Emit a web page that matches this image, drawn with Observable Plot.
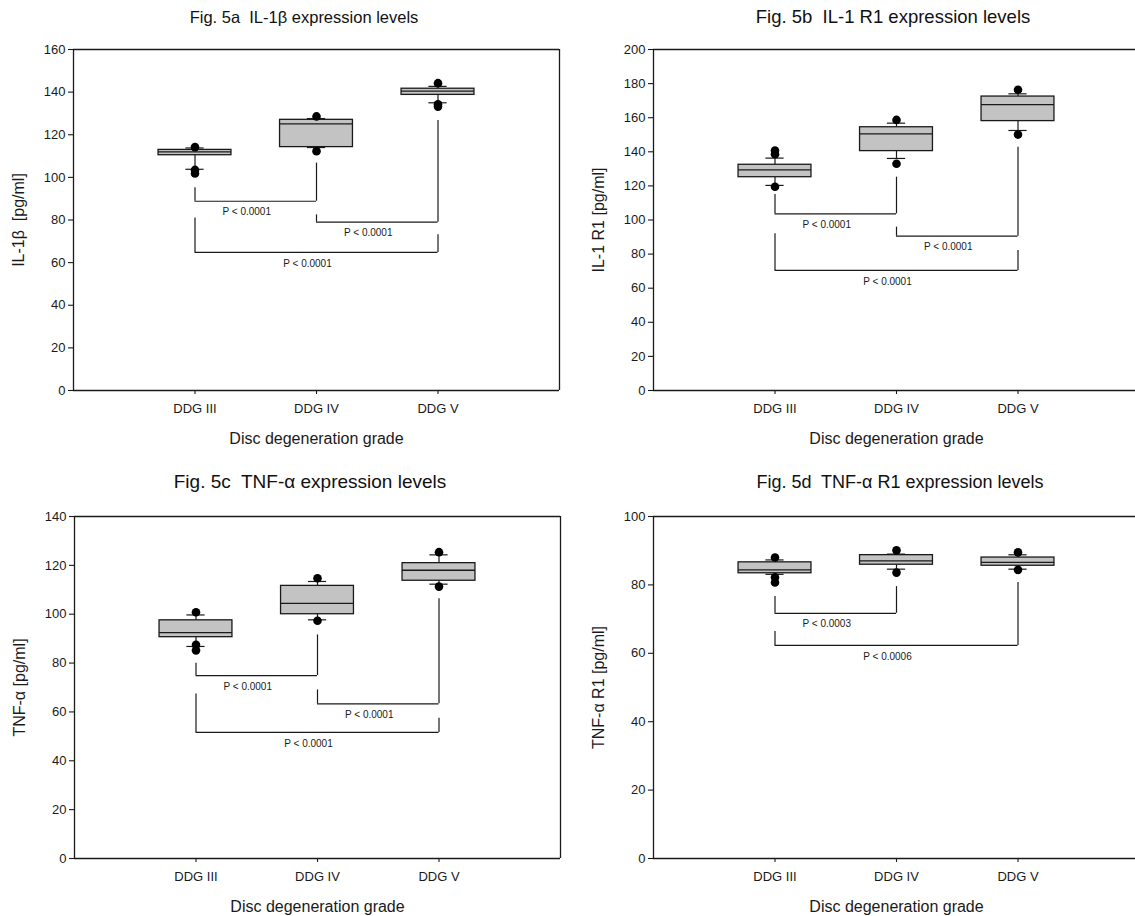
<!DOCTYPE html>
<html><head><meta charset="utf-8">
<script src="https://cdn.jsdelivr.net/npm/d3@7"></script>
<script src="https://cdn.jsdelivr.net/npm/@observablehq/plot@0.6"></script>
<style>
html,body{margin:0;padding:0;background:#fff;overflow:hidden;}
#wrap{position:relative;width:1135px;height:916px;overflow:hidden;background:#fff;}
.panel{position:absolute;max-width:none !important;}
.panel text{white-space:pre;}
.title{position:absolute;font-family:"Liberation Sans",Arial,sans-serif;color:#111;white-space:pre;transform:translate(-50%,-50%);}
</style></head><body>
<div id="wrap"></div>
<script>
const grades = ["DDG III", "DDG IV", "DDG V"];
const xLabel = "Disc degeneration grade";

// Fig. 5a IL-1β
const aTitle = "Fig. 5a  IL-1β expression levels";
const aYLabel = "IL-1β  [pg/ml]";
const aYMax = 160;
const aQ1 = [110.4, 114.2, 138.7];
const aMed = [112.0, 125.1, 140.5];
const aQ3 = [112.9, 127.0, 141.6];
const aLo = [103.8, 114.0, 135.0];
const aHi = [113.8, 127.6, 142.7];
const aOut = [[114.2, 103.5, 101.8], [128.6, 112.3], [144.2, 134.3, 133.2]];
const aBr = [
  {x1: 1, x2: 2, y1: 95.1, y2: 106.7, y: 88.8, label: "P < 0.0001"},
  {x1: 2, x2: 3, y1: 82.4, y2: 126.7, y: 79.0, label: "P < 0.0001"},
  {x1: 1, x2: 3, y1: 80.9, y2: 73.1, y: 64.8, label: "P < 0.0001"}
];

// Fig. 5b IL-1 R1
const bTitle = "Fig. 5b  IL-1 R1 expression levels";
const bYLabel = "IL-1 R1 [pg/ml]";
const bYMax = 200;
const bQ1 = [125.1, 140.4, 158.0];
const bMed = [129.4, 150.5, 167.7];
const bQ3 = [132.4, 154.4, 172.4];
const bLo = [120.3, 136.1, 152.5];
const bHi = [136.3, 156.8, 174.0];
const bOut = [[140.8, 138.6, 119.5], [158.7, 133.0], [176.4, 150.1]];
const bBr = [
  {x1: 1, x2: 2, y1: 115.0, y2: 125.1, y: 103.6, label: "P < 0.0001"},
  {x1: 2, x2: 3, y1: 95.8, y2: 142.7, y: 90.5, label: "P < 0.0001"},
  {x1: 1, x2: 3, y1: 91.9, y2: 82.1, y: 70.4, label: "P < 0.0001"}
];

// Fig. 5c TNF-α
const cTitle = "Fig. 5c  TNF-α expression levels";
const cYLabel = "TNF-α [pg/ml]";
const cYMax = 140;
const cQ1 = [90.6, 100.0, 113.7];
const cMed = [92.5, 104.4, 118.0];
const cQ3 = [97.5, 111.6, 120.9];
const cLo = [86.8, 97.7, 112.3];
const cHi = [99.7, 113.4, 124.3];
const cOut = [[100.8, 87.5, 85.2], [114.7, 97.3], [125.4, 111.3]];
const cBr = [
  {x1: 1, x2: 2, y1: 79.9, y2: 91.5, y: 74.9, label: "P < 0.0001"},
  {x1: 2, x2: 3, y1: 69.0, y2: 106.3, y: 63.3, label: "P < 0.0001"},
  {x1: 1, x2: 3, y1: 67.3, y2: 57.4, y: 51.6, label: "P < 0.0001"}
];

// Fig. 5d TNF-α R1
const dTitle = "Fig. 5d  TNF-α R1 expression levels";
const dYLabel = "TNF-α R1 [pg/ml]";
const dYMax = 100;
const dQ1 = [83.4, 85.9, 85.6];
const dMed = [84.4, 87.0, 86.6];
const dQ3 = [86.6, 88.7, 88.0];
const dLo = [83.1, 84.6, 84.6];
const dHi = [87.3, 89.0, 88.8];
const dOut = [[88.0, 82.2, 80.7], [90.1, 83.6], [89.5, 84.4]];
const dBr = [
  {x1: 1, x2: 2, y1: 76.6, y2: 79.5, y: 71.7, label: "P < 0.0003"},
  {x1: 1, x2: 3, y1: 66.4, y2: 80.7, y: 62.3, label: "P < 0.0006"}
];

const FONT = '"Liberation Sans", Arial, sans-serif';
const INK = "#1a1a1a";
const wrap = document.getElementById("wrap");

function makePanel(cfg) {
  const idx = [0, 1, 2];
  const hw = 0.3, cw = 0.075;
  const outs = cfg.out.flatMap((arr, i) => arr.map(v => ({x: i + 1, y: v})));
  const br = cfg.br;
  const chart = Plot.plot({
    width: cfg.width, height: cfg.height,
    marginLeft: cfg.ml, marginRight: cfg.mr, marginTop: cfg.mt, marginBottom: cfg.mb,
    x: {domain: [0, 4]},
    y: {domain: [0, cfg.ymax]},
    style: {fontFamily: FONT, fontSize: "13px", color: INK, background: "transparent", overflow: "visible"},
    marks: [
      Plot.ruleY([0, cfg.ymax], {x1: () => 0, x2: () => 4, stroke: INK, strokeWidth: 1.3}),
      Plot.ruleX(cfg.openRight ? [0] : [0, 4], {y1: () => 0, y2: () => cfg.ymax, stroke: INK, strokeWidth: 1.3}),
      Plot.axisY({ticks: d3.range(0, cfg.ymax + 1, 20), tickSize: 5, tickPadding: 3, label: null, stroke: INK, strokeWidth: 1.1}),
      Plot.axisX({ticks: [1, 2, 3], tickFormat: d => grades[d - 1], tickSize: 4, tickPadding: 9, label: null, stroke: INK, strokeWidth: 1.1}),
      Plot.text([xLabel], {frameAnchor: "bottom", dy: 53, fontSize: 16, fill: INK}),
      Plot.text([cfg.ylabel], {frameAnchor: "left", textAnchor: "middle", rotate: -90, dx: -55, fontSize: 16, fill: INK}),
      // brackets
      Plot.ruleX(br, {x: "x1", y1: "y1", y2: "y", stroke: INK, strokeWidth: 1.2}),
      Plot.ruleX(br, {x: "x2", y1: "y2", y2: "y", stroke: INK, strokeWidth: 1.2}),
      Plot.ruleY(br, {y: "y", x1: "x1", x2: "x2", stroke: INK, strokeWidth: 1.2}),
      Plot.text(br, {x: d => (d.x1 + d.x2) / 2, y: "y", text: "label", dy: 11, dx: -9, fontSize: 10, fill: INK}),
      // whiskers
      Plot.ruleX(idx, {x: i => i + 1, y1: i => cfg.lo[i], y2: i => cfg.q1[i], stroke: INK, strokeWidth: 1.2}),
      Plot.ruleX(idx, {x: i => i + 1, y1: i => cfg.q3[i], y2: i => cfg.hi[i], stroke: INK, strokeWidth: 1.2}),
      Plot.ruleY(idx, {y: i => cfg.lo[i], x1: i => i + 1 - cw, x2: i => i + 1 + cw, stroke: INK, strokeWidth: 1.2}),
      Plot.ruleY(idx, {y: i => cfg.hi[i], x1: i => i + 1 - cw, x2: i => i + 1 + cw, stroke: INK, strokeWidth: 1.2}),
      // boxes
      Plot.rect(idx, {x1: i => i + 1 - hw, x2: i => i + 1 + hw, y1: i => cfg.q1[i], y2: i => cfg.q3[i], fill: "#c3c3c3", stroke: INK, strokeWidth: 1.3}),
      Plot.ruleY(idx, {y: i => cfg.med[i], x1: i => i + 1 - hw, x2: i => i + 1 + hw, stroke: INK, strokeWidth: 1.3}),
      // outliers
      Plot.dot(outs, {x: "x", y: "y", r: 4.3, fill: "#000", stroke: "none"})
    ]
  });
  chart.classList.add("panel");
  chart.style.left = cfg.left + "px";
  chart.style.top = cfg.top + "px";
  chart.style.maxWidth = "none";
  wrap.appendChild(chart);
  const t = document.createElement("div");
  t.className = "title";
  t.textContent = cfg.title;
  t.style.left = cfg.tx + "px";
  t.style.top = cfg.ty + "px";
  t.style.fontSize = cfg.tsize + "px";
  wrap.appendChild(t);
}

const topGeom = {top: 30, height: 420, mt: 19, mb: 60};
const botGeom = {top: 495, height: 421, mt: 21, mb: 58};

makePanel({...topGeom, left: 0, width: 567, ml: 73, mr: 8, ymax: aYMax, ylabel: aYLabel, title: aTitle, tx: 304, ty: 17, tsize: 16.5,
  q1: aQ1, med: aMed, q3: aQ3, lo: aLo, hi: aHi, out: aOut, br: aBr});
makePanel({...topGeom, left: 567, width: 580, ml: 86, mr: 8, openRight: true, ymax: bYMax, ylabel: bYLabel, title: bTitle, tx: 893, ty: 17, tsize: 18.5,
  q1: bQ1, med: bMed, q3: bQ3, lo: bLo, hi: bHi, out: bOut, br: bBr});
makePanel({...botGeom, left: 0, width: 567, ml: 74, mr: 7, ymax: cYMax, ylabel: cYLabel, title: cTitle, tx: 310, ty: 482, tsize: 19,
  q1: cQ1, med: cMed, q3: cQ3, lo: cLo, hi: cHi, out: cOut, br: cBr});
makePanel({...botGeom, left: 567, width: 580, ml: 86, mr: 8, openRight: true, ymax: dYMax, ylabel: dYLabel, title: dTitle, tx: 900, ty: 482, tsize: 18,
  q1: dQ1, med: dMed, q3: dQ3, lo: dLo, hi: dHi, out: dOut, br: dBr});
</script>
</body></html>
